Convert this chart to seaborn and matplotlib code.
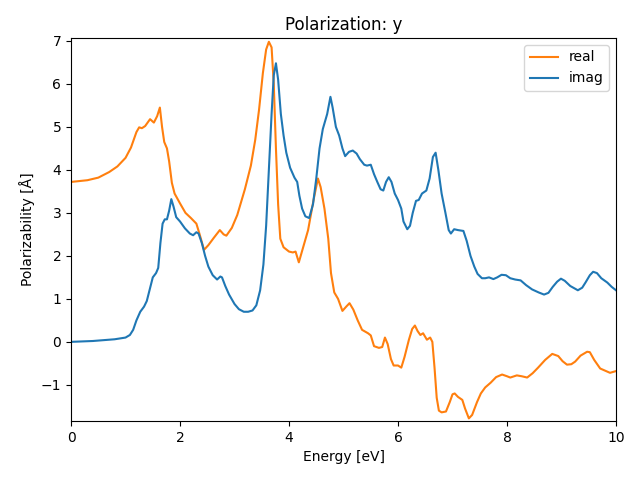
import matplotlib
matplotlib.use("Agg")
import matplotlib.pyplot as plt
import seaborn as sns
import pandas as pd

real_energy = [0.0, 0.3, 0.5, 0.7, 0.85, 1.0, 1.1, 1.2, 1.25, 1.3, 1.36, 1.45, 1.52, 1.58, 1.63,
               1.67, 1.71, 1.76, 1.8, 1.85, 1.9, 2.0, 2.1, 2.2, 2.3, 2.36, 2.44, 2.52, 2.62, 2.73,
               2.8, 2.85, 2.95, 3.05, 3.19, 3.3, 3.38, 3.45, 3.52, 3.58, 3.63, 3.68, 3.72, 3.76,
               3.8, 3.84, 3.9, 4.0, 4.07, 4.12, 4.18, 4.26, 4.35, 4.45, 4.53, 4.58, 4.65, 4.72,
               4.77, 4.83, 4.9, 4.98, 5.05, 5.11, 5.18, 5.26, 5.34, 5.45, 5.5, 5.56, 5.65, 5.71,
               5.76, 5.81, 5.87, 5.92, 6.0, 6.06, 6.12, 6.2, 6.26, 6.31, 6.36, 6.41, 6.46, 6.53,
               6.59, 6.63, 6.67, 6.71, 6.75, 6.8, 6.88, 6.95, 7.0, 7.04, 7.1, 7.18, 7.23, 7.3,
               7.36, 7.45, 7.52, 7.6, 7.7, 7.8, 7.91, 8.0, 8.06, 8.18, 8.27, 8.37, 8.47, 8.57,
               8.7, 8.83, 8.94, 9.02, 9.1, 9.18, 9.25, 9.35, 9.47, 9.52, 9.6, 9.71, 9.8, 9.89, 10.0]
real_values = [3.72, 3.76, 3.82, 3.95, 4.08, 4.28, 4.52, 4.88, 4.99, 4.97, 5.02, 5.18, 5.1, 5.25, 5.45,
               5.0, 4.65, 4.5, 4.2, 3.7, 3.45, 3.22, 3.0, 2.88, 2.75, 2.5, 2.14, 2.25, 2.42, 2.6,
               2.5, 2.47, 2.65, 2.95, 3.55, 4.1, 4.7, 5.4, 6.25, 6.8, 6.98, 6.85, 6.0, 4.5,
               3.2, 2.4, 2.2, 2.1, 2.08, 2.1, 1.85, 2.2, 2.6, 3.3, 3.8, 3.6, 3.1, 2.4,
               1.6, 1.15, 1.0, 0.72, 0.82, 0.9, 0.75, 0.5, 0.28, 0.2, 0.15, -0.1, -0.14, -0.12,
               0.1, -0.05, -0.4, -0.55, -0.55, -0.6, -0.35, 0.05, 0.3, 0.38, 0.25, 0.16, 0.2, 0.05,
               0.1, 0.0, -0.6, -1.3, -1.6, -1.64, -1.62, -1.4, -1.22, -1.2, -1.28, -1.35, -1.55, -1.78,
               -1.7, -1.4, -1.2, -1.06, -0.95, -0.82, -0.76, -0.8, -0.83, -0.78, -0.8, -0.83, -0.73, -0.6,
               -0.42, -0.28, -0.33, -0.45, -0.53, -0.52, -0.46, -0.32, -0.23, -0.24, -0.42, -0.62, -0.67, -0.72, -0.68]

imag_energy = [0.0, 0.4, 0.8, 1.0, 1.08, 1.14, 1.2, 1.27, 1.34, 1.39, 1.44, 1.5, 1.56, 1.6, 1.64,
               1.68, 1.72, 1.76, 1.8, 1.84, 1.88, 1.93, 2.0, 2.09, 2.18, 2.24, 2.3, 2.34, 2.4, 2.46,
               2.52, 2.6, 2.68, 2.74, 2.77, 2.83, 2.9, 3.0, 3.08, 3.17, 3.25, 3.33, 3.4, 3.47,
               3.53, 3.58, 3.63, 3.68, 3.72, 3.76, 3.8, 3.85, 3.9, 3.95, 4.02, 4.1, 4.15, 4.19,
               4.24, 4.3, 4.37, 4.44, 4.5, 4.56, 4.62, 4.7, 4.76, 4.8, 4.86, 4.92, 4.98, 5.03,
               5.1, 5.17, 5.24, 5.3, 5.38, 5.43, 5.5, 5.56, 5.62, 5.68, 5.73, 5.78, 5.83, 5.88,
               5.94, 6.0, 6.06, 6.1, 6.17, 6.22, 6.27, 6.33, 6.38, 6.44, 6.52, 6.58, 6.64, 6.69,
               6.74, 6.8, 6.87, 6.93, 6.97, 7.03, 7.1, 7.2, 7.26, 7.33, 7.4, 7.46, 7.54, 7.6,
               7.67, 7.75, 7.82, 7.9, 7.98, 8.06, 8.15, 8.25, 8.35, 8.46, 8.58, 8.68, 8.76, 8.84,
               8.92, 8.99, 9.06, 9.16, 9.3, 9.38, 9.44, 9.52, 9.58, 9.65, 9.73, 9.84, 9.92, 10.0]
imag_values = [0.0, 0.02, 0.06, 0.1, 0.16, 0.28, 0.5, 0.7, 0.82, 0.95, 1.2, 1.5, 1.6, 1.72, 2.3,
               2.75, 2.85, 2.85, 3.05, 3.32, 3.15, 2.9, 2.8, 2.64, 2.52, 2.48, 2.55, 2.52, 2.3, 2.0,
               1.75, 1.55, 1.45, 1.52, 1.5, 1.3, 1.1, 0.88, 0.76, 0.7, 0.7, 0.73, 0.85, 1.2,
               1.8, 2.7, 4.0, 5.3, 6.2, 6.48, 6.1, 5.3, 4.8, 4.4, 4.05, 3.82, 3.72, 3.4,
               3.1, 2.92, 2.88, 3.2, 3.8, 4.5, 4.95, 5.3, 5.7, 5.45, 5.0, 4.8, 4.5, 4.32,
               4.42, 4.45, 4.38, 4.25, 4.12, 4.1, 4.12, 3.9, 3.72, 3.55, 3.52, 3.72, 3.83, 3.72,
               3.45, 3.3, 3.1, 2.8, 2.62, 2.7, 3.0, 3.28, 3.3, 3.45, 3.52, 3.8, 4.3, 4.4,
               4.0, 3.45, 3.0, 2.6, 2.52, 2.62, 2.6, 2.58, 2.35, 2.0, 1.75, 1.58, 1.48, 1.48,
               1.5, 1.46, 1.5, 1.56, 1.55, 1.48, 1.45, 1.43, 1.32, 1.22, 1.15, 1.1, 1.14, 1.28,
               1.4, 1.47, 1.42, 1.3, 1.2, 1.26, 1.38, 1.55, 1.63, 1.6, 1.48, 1.38, 1.28, 1.2]

series_names = ["real", "imag"]
series_colors = {"real": "#ff7f0e", "imag": "#1f77b4"}

df = pd.concat([
    pd.DataFrame({"Energy": real_energy, "Value": real_values, "series": "real"}),
    pd.DataFrame({"Energy": imag_energy, "Value": imag_values, "series": "imag"}),
], ignore_index=True)

fig, ax = plt.subplots(figsize=(6.4, 4.8), dpi=100)
sns.lineplot(data=df, x="Energy", y="Value", hue="series", hue_order=series_names,
             palette=series_colors, estimator=None, sort=False, linewidth=1.5, ax=ax)

ax.set_xlim(0, 10)
ax.set_ylim(-1.84, 7.07)
ax.set_title("Polarization: y")
ax.set_xlabel("Energy [eV]")
ax.set_ylabel("Polarizability [Å]")
handles, labels = ax.get_legend_handles_labels()
ax.legend(handles, labels, loc="upper right")
fig.subplots_adjust(left=0.111, right=0.9625, top=0.921, bottom=0.123)
fig.savefig("out.png", dpi=100)
